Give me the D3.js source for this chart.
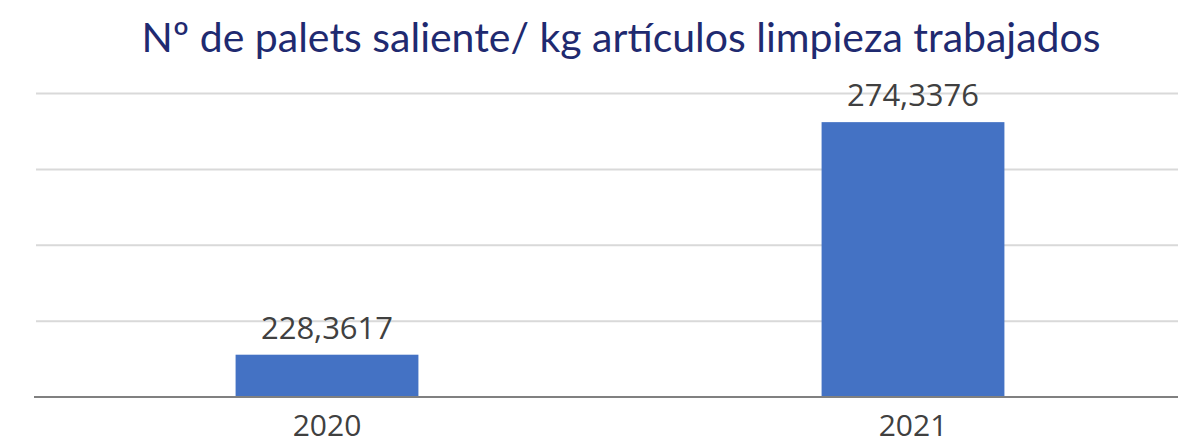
<!DOCTYPE html>
<html><head><meta charset="utf-8">
<script src="https://cdn.jsdelivr.net/npm/d3@7"></script>
<style>html,body{margin:0;padding:0;background:#fff;}svg{display:block;}</style>
</head><body>
<script>
const categories = ["2020", "2021"];
const values = [228.3617, 274.3376];
const valueLabels = ["228,3617", "274,3376"];
const yTicks = [220, 235, 250, 265, 280];
const title = "Nº de palets saliente/ kg artículos limpieza trabajados";

const W = 1178, H = 448;
const svg = d3.select("body").append("svg").attr("width", W).attr("height", H);

const x = d3.scaleBand().domain(categories).range([34, 1206]).paddingInner(0.688).paddingOuter(0.344);
const y = d3.scaleLinear().domain([220, 280]).range([397, 93.5]);

svg.append("text").attr("x", 621).attr("y", 52).attr("text-anchor", "middle")
  .attr("font-family", "Lato, 'Open Sans', sans-serif").attr("font-size", 41)
  .attr("fill", "#1f2a70").text(title);

const grid = svg.append("g");
grid.selectAll("line").data(yTicks.slice(1)).join("line")
  .attr("x1", 36).attr("x2", W).attr("y1", d => y(d)).attr("y2", d => y(d))
  .attr("stroke", "#d9d9d9").attr("stroke-width", 2);

svg.append("g").selectAll("rect").data(values).join("rect")
  .attr("x", (d, i) => x(categories[i])).attr("width", x.bandwidth())
  .attr("y", d => y(d)).attr("height", d => y(220) - y(d))
  .attr("fill", "#4472c4");

svg.append("line").attr("x1", 34).attr("x2", W).attr("y1", y(220)).attr("y2", y(220))
  .attr("stroke", "#808080").attr("stroke-width", 2);

svg.append("g").selectAll("text").data(values).join("text")
  .attr("x", (d, i) => x(categories[i]) + x.bandwidth() / 2)
  .attr("y", d => y(d) - 16).attr("text-anchor", "middle")
  .attr("font-family", "'Open Sans', sans-serif").attr("font-size", 31).attr("fill", "#404040")
  .text((d, i) => valueLabels[i]);

svg.append("g").selectAll("text").data(categories).join("text")
  .attr("x", d => x(d) + x.bandwidth() / 2).attr("y", 436).attr("text-anchor", "middle")
  .attr("font-family", "'Open Sans', sans-serif").attr("font-size", 30).attr("fill", "#404040")
  .text(d => d);
</script>
</body></html>
